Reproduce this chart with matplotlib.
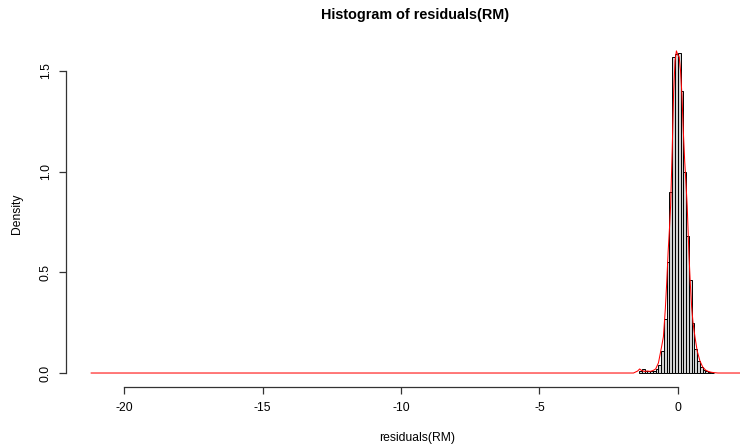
import matplotlib
matplotlib.use('Agg')
import matplotlib.pyplot as plt

plt.rcParams['font.family'] = ['Liberation Sans', 'DejaVu Sans']

# Histogram of residuals (density scale), bins of 0.1
bin_width = 0.1
bin_left = [-1.4, -1.3, -1.2, -1.1, -1.0, -0.9, -0.8, -0.7, -0.6, -0.5,
            -0.4, -0.3, -0.2, -0.1, 0.0, 0.1, 0.2, 0.3, 0.4, 0.5,
            0.6, 0.7, 0.8, 0.9, 1.0, 1.1, 1.2]
density = [0.01, 0.02, 0.012, 0.008, 0.01, 0.012, 0.02, 0.04, 0.11, 0.27,
           0.55, 0.90, 1.57, 1.585, 1.59, 1.40, 1.00, 0.68, 0.46, 0.25,
           0.12, 0.06, 0.03, 0.015, 0.008, 0.004, 0.002]

# Kernel density curve (red)
kde_x = [-21.2, -1.6, -1.45, -1.38, -1.3, -1.2, -1.1, -1.0, -0.9, -0.8,
         -0.7, -0.6, -0.52, -0.45, -0.4, -0.35, -0.3, -0.26, -0.2, -0.15,
         -0.1, -0.05, 0.0, 0.05, 0.1, 0.15, 0.2, 0.25, 0.3, 0.34,
         0.4, 0.45, 0.5, 0.55, 0.62, 0.7, 0.8, 0.9, 1.0, 1.1,
         1.2, 1.3, 1.45, 2.3]
kde_y = [0.0, 0.0, 0.01, 0.02, 0.012, 0.008, 0.01, 0.008, 0.012, 0.02,
         0.05, 0.12, 0.18, 0.32, 0.45, 0.60, 0.72, 0.83, 1.12, 1.40,
         1.55, 1.60, 1.58, 1.57, 1.50, 1.38, 1.20, 1.05, 0.93, 0.83,
         0.60, 0.45, 0.33, 0.25, 0.18, 0.11, 0.06, 0.03, 0.015, 0.008,
         0.004, 0.002, 0.0, 0.0]

xticks = [-20, -15, -10, -5, 0]
yticks = [0.0, 0.5, 1.0, 1.5]

fig = plt.figure(figsize=(7.4, 4.47), dpi=100)
# plot region runs past the right edge, like the cropped original
ax = fig.add_axes([66 / 740, 1 - 386.5 / 447, (768 - 66) / 740, (386.5 - 40.1) / 447])

ax.bar(bin_left, density, width=bin_width, align='edge',
       color='lightgray', edgecolor='black', linewidth=0.7)
ax.plot(kde_x, kde_y, color='red', linewidth=0.75)

ax.set_xlim(-22.11, 3.26)
ax.set_ylim(-0.067, 1.6536)

# R style axes: no box, axis lines only from first to last tick
for side in ['top', 'right']:
    ax.spines[side].set_visible(False)
ax.spines['left'].set_bounds(0, 1.5)
ax.spines['bottom'].set_bounds(-20, 0)
for side in ['left', 'bottom']:
    ax.spines[side].set_color('#333333')
    ax.spines[side].set_linewidth(0.9)

ax.set_xticks(xticks)
ax.set_xticklabels([str(t) for t in xticks])
ax.set_yticks(yticks)
ax.set_yticklabels(['%.1f' % t for t in yticks], rotation=90, va='center')
ax.tick_params(axis='x', length=5.2, width=0.9, color='#333333', pad=5.9, labelsize=8.7)
ax.tick_params(axis='y', length=5.2, width=0.9, color='#333333', pad=5.0, labelsize=8.7)

fig.text(415 / 740, 1 - 15 / 447, 'Histogram of residuals(RM)',
         ha='center', va='center', fontsize=10.4, fontweight='bold')
fig.text(417 / 740, 1 - 438 / 447, 'residuals(RM)', ha='center', va='center', fontsize=8.7)
fig.text(17 / 740, 1 - 214 / 447, 'Density', ha='center', va='center',
         rotation=90, fontsize=8.7)

fig.savefig('out.png', dpi=100)
